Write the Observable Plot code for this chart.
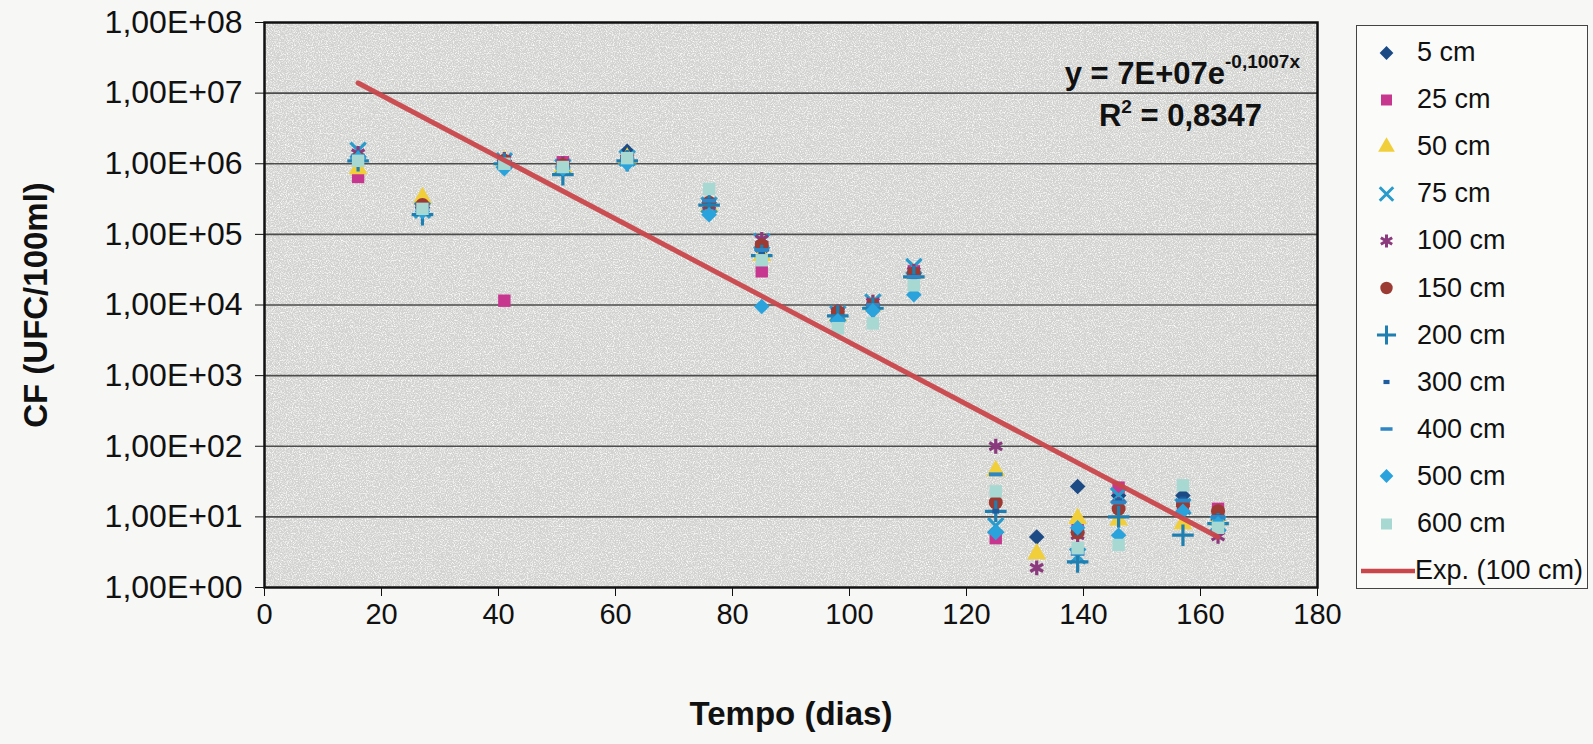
<!DOCTYPE html>
<html>
<head>
<meta charset="utf-8">
<script src="https://cdn.jsdelivr.net/npm/d3@7"></script>
<script src="https://cdn.jsdelivr.net/npm/@observablehq/plot@0.6"></script>
<style>
  body { margin: 0; background: #f7f7f5; font-family: "Liberation Sans", Arial, sans-serif; }
  #wrap { position: relative; width: 1593px; height: 744px; overflow: hidden; }
  #legend { position: absolute; left: 1356px; top: 25px; width: 232px; height: 564px;
            border: 1.5px solid #444; background: #fbfbfa; box-sizing: border-box; }
  .item { position: absolute; left: 0; height: 40px; display: flex; align-items: center;
          font-size: 27px; color: #111; white-space: nowrap; }
  .item svg { flex: none; }
</style>
</head>
<body>
<div id="wrap">
  <div id="chart"></div>
  <div id="legend"></div>
</div>
<script>
// ---------------- DATA ----------------
const days = [16, 27, 41, 51, 62, 76, 85, 98, 104, 111, 125, 132, 139, 146, 157, 163];

const seriesNames = ["5 cm", "25 cm", "50 cm", "75 cm", "100 cm", "150 cm",
                     "200 cm", "300 cm", "400 cm", "500 cm", "600 cm"];

const cf5   = [1.2e6, 2.4e5, 1.1e6, 9.0e5, 1.5e6, 2.8e5, 6.0e4, 6.0e3, 1.0e4, 2.8e4, 6,   5.2,  27,  20,  20,  9];
const cf25  = [6.5e5, 2.5e5, 1.15e4, 1.05e6, 1.2e6, 2.5e5, 3.0e4, 7.0e3, 1.0e4, 3.0e4, 5,  null, 7,   26,  14,  13];
const cf50  = [8.5e5, 3.3e5, 1.1e6, 9.0e5, 1.2e6, 2.5e5, 5.0e4, 7.0e3, 1.0e4, 2.8e4, 45,  3,    9.5, 9,   8,   9];
const cf75  = [1.55e6, 2.2e5, 1.1e6, 9.0e5, 1.2e6, 2.6e5, 8.0e4, 7.5e3, 1.1e4, 3.5e4, 7.5, null, 2.8, 20,  14,  8];
const cf100 = [1.4e6, 2.5e5, 1.15e6, 1.0e6, 1.2e6, 2.6e5, 8.5e4, 8.0e3, 1.1e4, 3.0e4, 100, 1.9,  5.5, 15,  13,  5.3];
const cf150 = [1.2e6, 2.6e5, 1.1e6, 9.5e5, 1.2e6, 2.8e5, 7.0e4, 8.0e3, 1.0e4, 2.8e4, 16,  null, 6,   13,  15,  12];
const cf200 = [1.1e6, 1.9e5, 1.0e6, 7.0e5, 1.1e6, 2.6e5, 5.0e4, 7.0e3, 9.0e3, 2.5e4, 12,  null, 2.3, 10,  5.5, 8];
const cf300 = [1.2e6, 2.3e5, 1.1e6, 8.5e5, 1.2e6, 3.0e5, 5.5e4, 6.0e3, 9.0e3, 2.5e4, 12,  null, 6,   17,  18,  10];
const cf400 = [1.3e6, 2.3e5, 1.1e6, 9.0e5, 1.2e6, 3.0e5, 6.0e4, 6.5e3, 1.0e4, 2.5e4, 40,  null, 3,   16,  17,  10];
const cf500 = [1.2e6, 2.1e5, 8.5e5, 8.5e5, 1.0e6, 1.9e5, 9.5e3, 6.0e3, 8.3e3, 1.4e4, 6,   null, 7,   5.5, 12,  8];
const cf600 = [1.1e6, 2.3e5, 1.0e6, 9.0e5, 1.2e6, 4.4e5, 4.3e4, 4.7e3, 5.5e3, 1.9e4, 23,  null, 3.6, 4,   28,  7];

const seriesValues = [cf5, cf25, cf50, cf75, cf100, cf150, cf200, cf300, cf400, cf500, cf600];

// Exponential trend (100 cm): y = 7E+07 e^(-0,1007x), endpoints
const trendDays = [16, 163];
const trendCF   = [1.39e7, 5.2];

const xTicks = [0, 20, 40, 60, 80, 100, 120, 140, 160, 180];
const yTicks = [1, 1e1, 1e2, 1e3, 1e4, 1e5, 1e6, 1e7, 1e8];

const xTitle = "Tempo (dias)";
const yTitle = "CF (UFC/100ml)";
const eqMain = "y = 7E+07e";
const eqExp  = "-0,1007x";
const r2Text = " = 0,8347";
const trendLabel = "Exp. (100 cm)";

// ---------------- STYLES ----------------
const shortDash = { draw(ctx, size) { const s = Math.sqrt(size); const w = s * 0.55, h = s * 0.38; ctx.rect(-w / 2, -h / 2, w, h); } };
const longDash  = { draw(ctx, size) { const s = Math.sqrt(size); const w = s * 1.1,  h = s * 0.32; ctx.rect(-w / 2, -h / 2, w, h); } };

const styles = [
  { symbol: "diamond2", fill: "#1b4a85", d3s: d3.symbolDiamond2 },
  { symbol: "square",   fill: "#c8378f", d3s: d3.symbolSquare },
  { symbol: "triangle", fill: "#f0cf3a", d3s: d3.symbolTriangle },
  { symbol: "times",    stroke: "#2a9ccc", d3s: d3.symbolTimes },
  { symbol: "asterisk", stroke: "#8b3a7d", d3s: d3.symbolAsterisk },
  { symbol: "circle",   fill: "#9b3b33", d3s: d3.symbolCircle },
  { symbol: "plus",     stroke: "#1f7fb0", d3s: d3.symbolPlus },
  { symbol: shortDash,  fill: "#1d5d9e", d3s: shortDash },
  { symbol: longDash,   fill: "#2e86c4", d3s: longDash },
  { symbol: "diamond2", fill: "#2aa3dc", d3s: d3.symbolDiamond2 },
  { symbol: "square",   fill: "#a8d8d2", d3s: d3.symbolSquare }
];

const trendColor = "#c9464b";
const dotR = 7;

// ---------------- TABLES ----------------
const tables = seriesNames.map((name, i) =>
  days.map((d, j) => ({ series: name, day: d, cf: seriesValues[i][j] })).filter(r => r.cf != null)
);
const trend = trendDays.map((d, i) => ({ day: d, cf: trendCF[i] }));

const fmtY = v => "1,00E+" + String(Math.round(Math.log10(v))).padStart(2, "0");

const dotMarks = tables.map((t, i) => {
  const st = styles[i];
  const o = { x: "day", y: "cf", symbol: st.symbol, r: dotR };
  if (st.stroke) { o.stroke = st.stroke; o.strokeWidth = 3.2; o.fill = "none"; }
  else { o.fill = st.fill; o.stroke = "none"; }
  return Plot.dot(t, o);
});

const chart = Plot.plot({
  width: 1593,
  height: 744,
  marginLeft: 264,
  marginRight: 276,
  marginTop: 22,
  marginBottom: 157,
  style: { fontFamily: "'Liberation Sans', Arial, sans-serif", color: "#111", background: "transparent", overflow: "visible" },
  x: { domain: [0, 180] },
  y: { type: "log", domain: [1, 1e8] },
  marks: [
    Plot.frame({ fill: "#d2d2d0", stroke: "none" }),
    Plot.ruleY(yTicks.slice(1, -1), { stroke: "#4d4d4d", strokeWidth: 1.6 }),
    ...dotMarks,
    Plot.line(trend, { x: "day", y: "cf", stroke: trendColor, strokeWidth: 5, strokeOpacity: 0.95 }),
    Plot.frame({ stroke: "#111", strokeWidth: 2.5 }),
    Plot.axisX(xTicks, { tickSize: 9, tickPadding: 7, fontSize: 29, label: null, stroke: "#111" }),
    Plot.axisY(yTicks, { tickSize: 9, tickPadding: 13, fontSize: 32, tickFormat: fmtY, label: null, stroke: "#111" }),
    Plot.text([xTitle], { frameAnchor: "bottom", dy: 137, fontSize: 33, fontWeight: "bold", fill: "#111" }),
    Plot.text([yTitle], { frameAnchor: "left", dx: -228, rotate: -90, textAnchor: "middle", fontSize: 33, fontWeight: "bold", fill: "#111" })
  ]
});

document.getElementById("chart").appendChild(chart);

const svg = d3.select(chart);

// Paper-like grain over the plot background
const defs = svg.insert("defs", ":first-child");
const flt = defs.append("filter").attr("id", "grain").attr("x", 0).attr("y", 0).attr("width", "100%").attr("height", "100%");
flt.append("feTurbulence").attr("type", "fractalNoise").attr("baseFrequency", 0.85).attr("numOctaves", 2).attr("seed", 7).attr("result", "n");
flt.append("feColorMatrix").attr("in", "n").attr("type", "matrix")
  .attr("values", "0 0 0 0 1  0 0 0 0 1  0 0 0 0 1  2.6 0 0 0 -1.15").attr("result", "w");
flt.append("feComposite").attr("in", "w").attr("in2", "SourceGraphic").attr("operator", "over");
const firstFrame = svg.select("rect");
firstFrame.attr("filter", "url(#grain)");

// Equation annotation
const right = chart.scale("x").range[1];
const eq = svg.append("text")
  .attr("x", right - 17).attr("y", 84)
  .attr("text-anchor", "end")
  .attr("font-family", "'Liberation Sans', Arial, sans-serif")
  .attr("font-weight", "bold").attr("font-size", 31).attr("fill", "#111");
eq.append("tspan").text(eqMain);
eq.append("tspan").attr("dy", -16).attr("font-size", 19).text(eqExp);

const r2 = svg.append("text")
  .attr("x", right - 55).attr("y", 126)
  .attr("text-anchor", "end")
  .attr("font-family", "'Liberation Sans', Arial, sans-serif")
  .attr("font-weight", "bold").attr("font-size", 31).attr("fill", "#111");
r2.append("tspan").text("R");
r2.append("tspan").attr("dy", -13).attr("font-size", 19).text("2");
r2.append("tspan").attr("dy", 13).text(r2Text);

// ---------------- LEGEND ----------------
const legend = d3.select("#legend");
const rowStep = 47.1;
seriesNames.forEach((name, i) => {
  const st = styles[i];
  const item = legend.append("div").attr("class", "item").style("top", (6.5 + i * rowStep) + "px");
  const s = item.append("svg").attr("width", 60).attr("height", 40);
  const path = s.append("path")
    .attr("transform", "translate(29.5,20)")
    .attr("d", d3.symbol(st.d3s, Math.PI * 6.2 * 6.2)());
  if (st.stroke) path.attr("fill", "none").attr("stroke", st.stroke).attr("stroke-width", 3);
  else path.attr("fill", st.fill);
  item.append("span").text(name);
});
{
  const i = seriesNames.length;
  const item = legend.append("div").attr("class", "item").style("top", (6.5 + i * rowStep) + "px");
  const s = item.append("svg").attr("width", 58).attr("height", 40);
  s.append("line").attr("x1", 4).attr("x2", 58).attr("y1", 20).attr("y2", 20)
    .attr("stroke", trendColor).attr("stroke-width", 4.5);
  item.append("span").text(trendLabel);
}
</script>
</body>
</html>
